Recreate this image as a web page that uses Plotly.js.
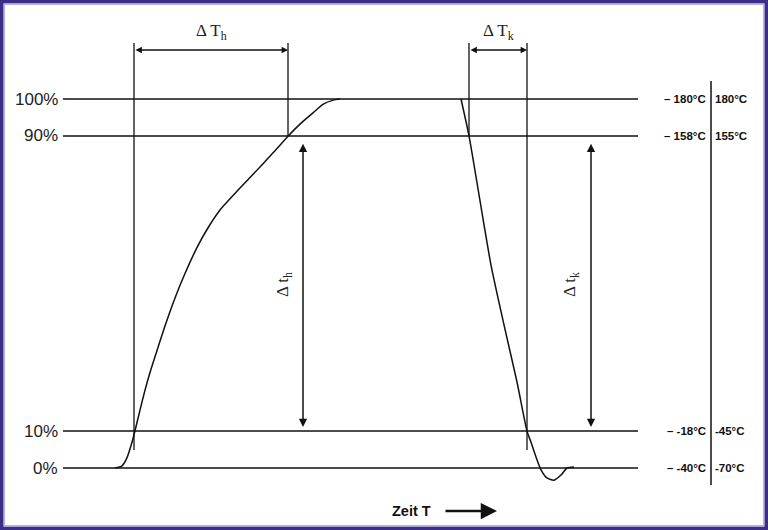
<!DOCTYPE html>
<html><head><meta charset="utf-8">
<script src="https://cdn.plot.ly/plotly-3.0.1.min.js"></script>
<style>html,body{margin:0;padding:0;background:#fff}#c{width:768px;height:530px}</style>
</head><body><div id="c"></div>
<script>
// Levels (percent of full range) and their labels
const levels = [100, 90, 10, 0];
const levelLabels = ["100%", "90%", "10%", "0%"];
const tempA = ["– 180°C", "– 158°C", "– -18°C", "– -40°C"];
const tempB = ["180°C", "155°C", "-45°C", "-70°C"];

// Heating curve (time units, percent)
const heatT = [115,121.7,126.7,131.7,135,140,145,150,156.7,165,175,185,196.7,206.7,220,233.3,246.7,260,273.3,288.3,300,313.3,323.3,333.3,340];
const heatP = [0,0.5,2.6,6.7,10.1,15.7,21.1,25.9,31.6,38.5,46.1,52.7,59.6,64.5,69.9,73.9,77.8,81.6,85.5,90,93.2,96.3,98.6,99.7,100];

// Cooling curve
const coolT = [461,469,491,504,517,527,531,536,541,547,554,561,567,574];
const coolP = [100,90,55,38.8,23.3,10,7.0,3.0,-0.5,-2.7,-3.3,-1.9,0,0.3];

// Crossing times (10% / 90%)
const heat10 = 134, heat90 = 288;
const cool90 = 469, cool10 = 527;

const lineStart = 63, lineEnd = 638;
const dimTop = 115.2, dimArrow = 113.3, dimText = 118.2, dimLow = 4.9;
const thX = 303, tkX = 591;
const scaleX = 711;

const traces = [];
const blk = '#111';
levels.forEach(l => traces.push({x:[lineStart,lineEnd], y:[l,l], mode:'lines', line:{color:blk,width:1.5}, hoverinfo:'skip'}));
traces.push({x:heatT, y:heatP, mode:'lines', line:{color:blk,width:1.5,shape:'spline',smoothing:0.6}, hoverinfo:'skip'});
traces.push({x:coolT, y:coolP, mode:'lines', line:{color:blk,width:1.5,shape:'spline',smoothing:0.6}, hoverinfo:'skip'});
// vertical reference lines
[[heat10,dimLow],[heat90,90],[cool90,90],[cool10,dimLow]].forEach(([t,lo]) =>
  traces.push({x:[t,t], y:[dimTop,lo], mode:'lines', line:{color:blk,width:1.3}, hoverinfo:'skip'}));
// right scale line
traces.push({x:[scaleX,scaleX], y:[104.9,-4.6], mode:'lines', line:{color:blk,width:1.5}, hoverinfo:'skip'});

const ann = [];
const serif = 'Liberation Serif, Times New Roman, serif';
const sans = 'Liberation Sans, Arial, sans-serif';
// level labels left
levels.forEach((l,i) => ann.push({x:60, y:l, text:levelLabels[i], showarrow:false, xanchor:'right', yanchor:'middle', font:{family:sans,size:17,color:'#222'}}));
// temp labels right
levels.forEach((l,i) => {
  ann.push({x:scaleX-3, y:l, text:tempA[i], showarrow:false, xanchor:'right', yanchor:'middle', font:{family:sans,size:11.5,color:'#111',weight:'bold'}});
  ann.push({x:scaleX+2, y:l, text:tempB[i], showarrow:false, xanchor:'left', yanchor:'middle', font:{family:sans,size:11.5,color:'#111',weight:'bold'}});
});
// horizontal dimension arrows
function dimH(a,b){
  ann.push({x:b, y:dimArrow, ax:a, ay:dimArrow, xref:'x', yref:'y', axref:'x', ayref:'y', showarrow:true, text:'',
    arrowhead:2, startarrowhead:2, arrowside:'end+start', arrowsize:0.8, arrowwidth:1.6, arrowcolor:blk});
}
dimH(heat10, heat90); dimH(cool90, cool10);
ann.push({x:(heat10+heat90)/2, y:dimText, text:'Δ T<sub>h</sub>', showarrow:false, font:{family:serif,size:17,color:'#222'}});
ann.push({x:(cool90+cool10)/2, y:dimText, text:'Δ T<sub>k</sub>', showarrow:false, font:{family:serif,size:17,color:'#222'}});
// vertical dimension arrows
function dimV(x){
  ann.push({x:x, y:11.1, ax:x, ay:88.3, xref:'x', yref:'y', axref:'x', ayref:'y', showarrow:true, text:'',
    arrowhead:2, startarrowhead:2, arrowside:'end+start', arrowsize:1.1, arrowwidth:1.5, arrowcolor:blk});
}
dimV(thX); dimV(tkX);
ann.push({x:thX-19, y:49.6, text:'Δ t<sub>h</sub>', textangle:-90, showarrow:false, font:{family:serif,size:17,color:'#222'}});
ann.push({x:tkX-20, y:49.6, text:'Δ t<sub>k</sub>', textangle:-90, showarrow:false, font:{family:serif,size:17,color:'#222'}});
// time label
ann.push({x:411, y:-11.65, text:'Zeit T', showarrow:false, font:{family:sans,size:14.5,color:'#111',weight:'bold'}});
ann.push({x:497, y:-11.65, ax:444, ay:-11.65, xref:'x', yref:'y', axref:'x', ayref:'y', showarrow:true, text:'',
  arrowhead:2, arrowsize:1.3, arrowwidth:2.5, arrowcolor:blk});

const layout = {
  width:768, height:530, margin:{l:0,r:0,t:0,b:0},
  paper_bgcolor:'#fff', plot_bgcolor:'#fff', showlegend:false,
  xaxis:{range:[0,768], visible:false, fixedrange:true},
  yaxis:{range:[-16.8,126.83], visible:false, fixedrange:true},
  annotations:ann,
  shapes:[
    {type:'rect', xref:'paper', yref:'paper', x0:1.8/768, x1:1-1.8/768, y0:1.8/530, y1:1-1.8/530, line:{color:'#3b2d88',width:3.6}},
    {type:'rect', xref:'paper', yref:'paper', x0:4.3/768, x1:1-4.3/768, y0:4.3/530, y1:1-4.3/530, line:{color:'#b6b1de',width:1.4}}
  ]
};
Plotly.newPlot('c', traces, layout, {staticPlot:true, displayModeBar:false});
</script></body></html>
